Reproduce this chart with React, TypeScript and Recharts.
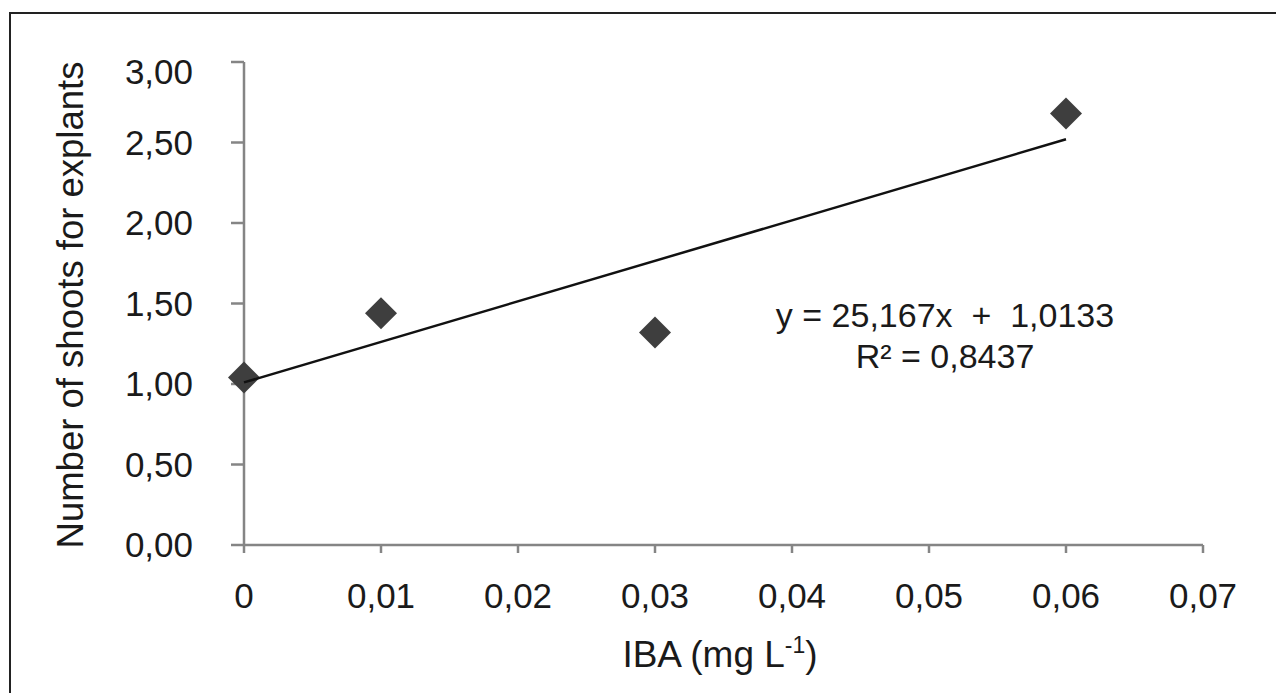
import React from 'react';
import { ScatterChart, Scatter, XAxis, YAxis, Label } from 'recharts';

const doses = [0, 0.01, 0.03, 0.06];
const shoots = [1.04, 1.44, 1.32, 2.68];
const trendDoses = [0, 0.06];
const trendShoots = [1.01, 2.52];
const xTicks = [0, 0.01, 0.02, 0.03, 0.04, 0.05, 0.06, 0.07];
const yTicks = [0, 0.5, 1, 1.5, 2, 2.5, 3];
const equation = 'y = 25,167x  +  1,0133';
const rSquared = 'R² = 0,8437';

const points = doses.map((x, i) => ({ x, y: shoots[i] }));
const trend = trendDoses.map((x, i) => ({ x, y: trendShoots[i] }));

const FONT = '"Liberation Sans", Arial, sans-serif';
const INK = '#1a1a1a';
const AXIS = '#858585';

const comma = (s: string) => s.replace('.', ',');

const Diamond = (props: any) => {
  const { cx, cy } = props;
  const r = 16;
  return (
    <polygon
      points={`${cx},${cy - r} ${cx + r},${cy} ${cx},${cy + r} ${cx - r},${cy}`}
      fill="#3e3e3e"
      style={{ filter: 'blur(0.7px)' }}
    />
  );
};

const XTick = (props: any) => {
  const { x, y, payload } = props;
  return (
    <text x={x} y={y} dy={25} textAnchor="middle" fontSize={35} fill={INK} fontFamily={FONT}>
      {payload.value === 0 ? '0' : comma(String(payload.value))}
    </text>
  );
};

const YTick = (props: any) => {
  const { x, y, payload } = props;
  // the top label sits a bit lower than its tick in the original
  const shift = payload.value === 3 ? 10 : 0;
  return (
    <text x={x} y={y + shift} dy={12} textAnchor="end" fontSize={35} fill={INK} fontFamily={FONT}>
      {comma(payload.value.toFixed(2))}
    </text>
  );
};

export default function App() {
  return (
    <div style={{ position: 'absolute', left: 0, top: 0, width: 1276, height: 693, background: '#fff', overflow: 'hidden' }}>
      <div
        style={{
          position: 'absolute',
          left: 9,
          top: 12,
          width: 1276,
          height: 700,
          borderTop: '2px solid #222',
          borderLeft: '2px solid #222',
        }}
      />
      <div style={{ position: 'absolute', left: 0, top: 0 }}>
        <ScatterChart width={1276} height={693} margin={{ top: 62, right: 73, bottom: 0, left: 0 }}>
          <XAxis
            type="number"
            dataKey="x"
            domain={[0, 0.07]}
            ticks={xTicks}
            height={148}
            stroke={AXIS}
            strokeWidth={2.5}
            tickSize={8}
            tickMargin={30}
            tick={<XTick />}
            interval={0}
          >
            <Label
              content={() => (
                <text x={720} y={667} textAnchor="middle" fontSize={37} fill={INK} fontFamily={FONT}>
                  IBA (mg L
                  <tspan dy={-14} fontSize={23}>-1</tspan>
                  <tspan dy={14}>)</tspan>
                </text>
              )}
            />
            <Label
              content={() => (
                <text textAnchor="middle" fontSize={34} fill={INK} fontFamily={FONT} style={{ whiteSpace: 'pre' }}>
                  <tspan x={945} y={327}>{equation}</tspan>
                  <tspan x={945} y={368}>{rSquared}</tspan>
                </text>
              )}
            />
          </XAxis>
          <YAxis
            type="number"
            dataKey="y"
            domain={[0, 3]}
            ticks={yTicks}
            width={244}
            stroke={AXIS}
            strokeWidth={2.5}
            tickSize={13}
            tickMargin={38}
            tick={<YTick />}
            interval={0}
          >
            <Label
              content={() => (
                <text
                  transform="translate(83,305) rotate(-90)"
                  textAnchor="middle"
                  fontSize={36.5}
                  fill={INK}
                  fontFamily={FONT}
                >
                  Number of shoots for explants
                </text>
              )}
            />
          </YAxis>
          <Scatter data={points} shape={<Diamond />} isAnimationActive={false} />
          <Scatter
            data={trend}
            line={{ stroke: '#111', strokeWidth: 2.5 }}
            shape={() => <g />}
            isAnimationActive={false}
          />
        </ScatterChart>
      </div>
    </div>
  );
}
